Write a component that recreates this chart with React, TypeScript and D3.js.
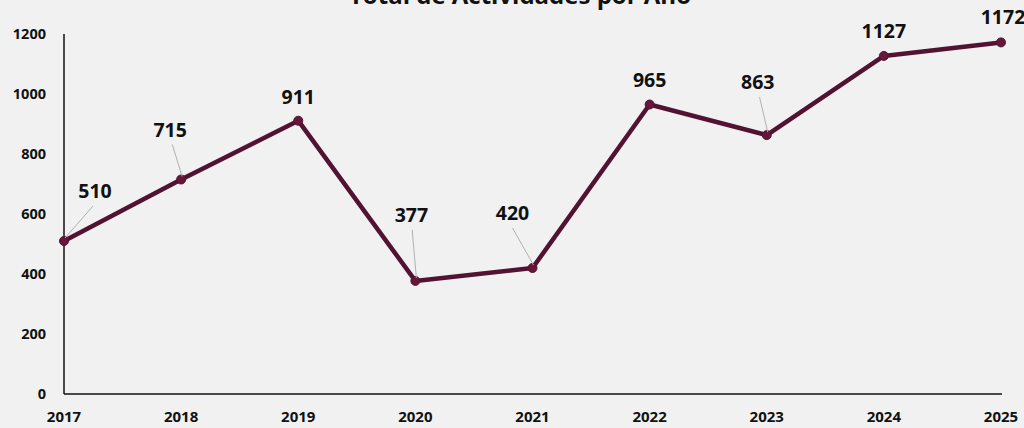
import * as d3 from "d3";

const YEARS = ["2017", "2018", "2019", "2020", "2021", "2022", "2023", "2024", "2025"];
const TOTALS = [510, 715, 911, 377, 420, 965, 863, 1127, 1172];
const Y_TICKS = [0, 200, 400, 600, 800, 1000, 1200];
// label placement relative to point: [dx, dy, leader]
const LABEL_OFFSETS: [number, number, boolean][] = [
  [31, -43, true],
  [-11, -43, true],
  [0, -17, false],
  [-4, -59, true],
  [-20, -48, true],
  [0, -18, false],
  [-9, -46, true],
  [0, -18, false],
  [2, -18, false],
];

const W = 1024;
const H = 428;
const LINE = "#521232";
const FONT = "'Open Sans', 'Noto Sans', sans-serif";

export default function App() {
  const x = d3.scalePoint<string>().domain(YEARS).range([64, 1001]);
  const y = d3.scaleLinear().domain([0, 1200]).range([394, 34]);
  const line = d3
    .line<number>()
    .x((_, i) => x(YEARS[i])!)
    .y((d) => y(d));

  return (
    <svg
      width={W}
      height={H}
      style={{ position: "absolute", left: 0, top: 0, fontFamily: FONT }}
    >
      <rect width={W} height={H} fill="#f0f1f0" />
      <text x={520} y={4} textAnchor="middle" fontSize={24} fontWeight={700} fill="#111">
        Total de Actividades por Año
      </text>

      {Y_TICKS.map((t) => (
        <text
          key={t}
          x={46}
          y={y(t)}
          dy="0.35em"
          textAnchor="end"
          fontSize={14.5}
          fontWeight={700}
          fill="#111"
        >
          {t}
        </text>
      ))}
      {YEARS.map((yr) => (
        <text
          key={yr}
          x={x(yr)}
          y={422}
          textAnchor="middle"
          fontSize={15}
          fontWeight={700}
          fill="#111"
        >
          {yr}
        </text>
      ))}

      <line x1={64} x2={64} y1={y(1200)} y2={y(0)} stroke="#111" strokeWidth={1.5} />
      <line x1={64} x2={1002} y1={y(0)} y2={y(0)} stroke="#111" strokeWidth={1.5} />

      <path d={line(TOTALS) ?? ""} fill="none" stroke={LINE} strokeWidth={4.5} strokeLinejoin="round" />
      {TOTALS.map((v, i) => (
        <circle key={i} cx={x(YEARS[i])} cy={y(v)} r={4.5} fill="#661638" stroke={LINE} strokeWidth={1} />
      ))}

      {TOTALS.map((v, i) => {
        const px = x(YEARS[i])!;
        const py = y(v);
        const [dx, dy, leader] = LABEL_OFFSETS[i];
        const tx = px + dx;
        const ty = py + dy;
        return (
          <g key={`l${i}`}>
            {leader && (
              <line
                x1={tx + (dx > 20 ? -2 : dx < -15 ? 0 : dx * -0.2)}
                y1={ty + 8}
                x2={px + 1}
                y2={py - 3}
                stroke="#b0b0b0"
                strokeWidth={1}
              />
            )}
            <text
              x={tx}
              y={ty}
              textAnchor="middle"
              fontSize={19.5}
              fontWeight={700}
              fill="#111"
            >
              {v}
            </text>
          </g>
        );
      })}
    </svg>
  );
}
